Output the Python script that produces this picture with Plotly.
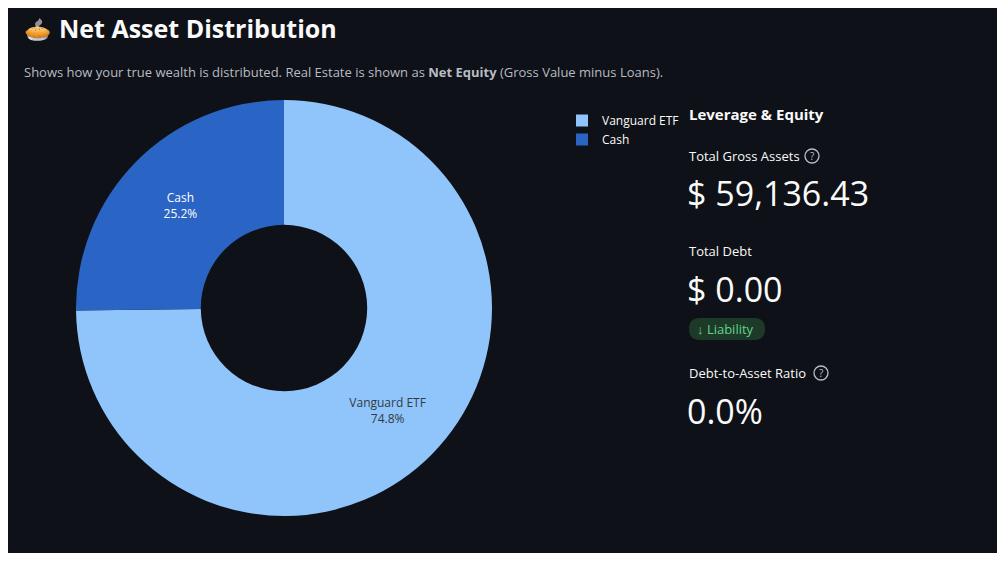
import plotly.graph_objects as go

labels = ["Vanguard ETF", "Cash"]
values = [44234.05, 14902.38]
colors = ["#90c5fb", "#2a64c4"]
text_colors = ["#333a45", "#ffffff"]

title = "Net Asset Distribution"
subtitle = "Shows how your true wealth is distributed. Real Estate is shown as <b>Net Equity</b> (Gross Value minus Loans)."
gross = "$ 59,136.43"
debt = "$ 0.00"
ratio = "0.0%"

OFF = 8
W, H = 1005 - 2 * OFF, 561 - 2 * OFF
BG = "#0e1117"
FONT = "Open Sans"

def px(x): return (x - OFF) / W
def py(y): return 1 - (y - OFF) / H

fig = go.Figure(go.Pie(
    labels=labels, values=values, hole=0.4, sort=False, direction="clockwise",
    marker=dict(colors=colors, line=dict(width=0)),
    textinfo="label+percent", textposition="inside",
    insidetextfont=dict(color=text_colors, size=12, family=FONT),
    domain=dict(x=[px(76), px(492)], y=[py(516), py(100)]),
))

ann = []
def t(x, y, s, size, color="#fafafa", weight=None):
    ann.append(dict(x=px(x), y=py(y), xref="paper", yref="paper", text=s, showarrow=False,
                    xanchor="left", yanchor="middle",
                    font=dict(size=size, color=color, family=FONT, weight=weight)))

t(22, 28, "🥧", 22)
t(57, 28, title, 25, weight=700)
t(22, 72, subtitle, 13, color="#b8bcc4")
t(687, 114, "Leverage & Equity", 15, weight=700)
t(687, 156, "Total Gross Assets", 13)
t(685, 193, gross, 34)
t(687, 251, "Total Debt", 13)
t(685, 289, debt, 34)
t(687, 373, "Debt-to-Asset Ratio", 13)
t(685, 411, ratio, 34)
t(695, 329, "↓ Liability", 13, color="#62d38a")

shapes = [
    dict(type="path", xref="paper", yref="paper", layer="below", fillcolor="#1d3a29", line=dict(width=0),
         path=f"M {px(700)} {py(318)} L {px(754)} {py(318)} Q {px(765)} {py(318)} {px(765)} {py(329)} "
              f"Q {px(765)} {py(340)} {px(754)} {py(340)} L {px(700)} {py(340)} "
              f"Q {px(689)} {py(340)} {px(689)} {py(329)} Q {px(689)} {py(318)} {px(700)} {py(318)} Z"),
]
for cx, cy in [(812, 156), (821, 373)]:
    shapes.append(dict(type="circle", xref="paper", yref="paper", x0=px(cx-7), x1=px(cx+7),
                       y0=py(cy+7), y1=py(cy-7), line=dict(color="#b8bcc4", width=1.3)))
    ann.append(dict(x=px(cx), y=py(cy), xref="paper", yref="paper", text="?", showarrow=False,
                    xanchor="center", yanchor="middle",
                    font=dict(size=10, color="#b8bcc4", family=FONT)))

fig.update_layout(
    width=W, height=H, paper_bgcolor=BG, plot_bgcolor=BG,
    margin=dict(l=0, r=0, t=0, b=0),
    annotations=ann, shapes=shapes,
    legend=dict(x=px(562), y=py(106), xanchor="left", yanchor="top",
                font=dict(color="#fafafa", size=12, family=FONT), bgcolor="rgba(0,0,0,0)"),
    font=dict(family=FONT),
)
fig.write_html("out.html")
